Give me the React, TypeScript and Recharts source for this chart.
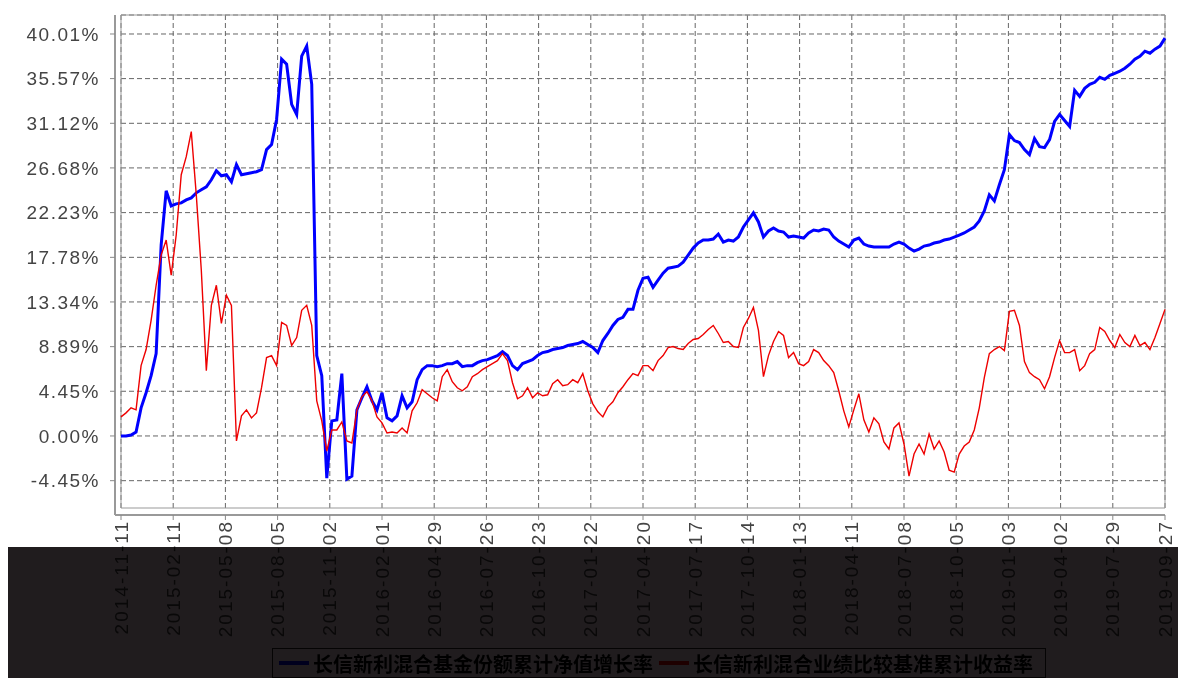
import { LineChart, Line, XAxis, YAxis, CartesianGrid, Legend, ReferenceArea } from 'recharts'

const dateLabels = [
  '2014-11-11', '2015-02-11', '2015-05-08', '2015-08-05', '2015-11-02', '2016-02-01', '2016-04-29',
  '2016-07-26', '2016-10-23', '2017-01-22', '2017-04-20', '2017-07-17', '2017-10-14', '2018-01-13',
  '2018-04-11', '2018-07-08', '2018-10-05', '2019-01-03', '2019-04-02', '2019-07-29', '2019-09-27',
]

const yTicks = [-4.45, 0, 4.45, 8.89, 13.34, 17.78, 22.23, 26.68, 31.12, 35.57, 40.01]

// 基金份额累计净值增长率 (%)
const fundReturn = [
  0.0, 0.0, 0.1, 0.4, 2.8, 4.3, 6.0, 8.2, 19.0, 24.4,
  22.9, 23.1, 23.2, 23.5, 23.7, 24.2, 24.5, 24.8, 25.5, 26.4,
  25.9, 26.0, 25.3, 27.0, 26.0, 26.1, 26.2, 26.3, 26.5, 28.5,
  29.0, 31.5, 37.5, 37.0, 33.0, 32.0, 37.8, 38.8, 35.0, 8.0,
  6.0, -4.2, 1.5, 1.6, 6.2, -4.3, -4.0, 2.6, 3.8, 4.9,
  3.5, 2.6, 4.3, 1.8, 1.5, 2.0, 4.0, 2.8, 3.4, 5.6,
  6.6, 7.0, 7.0, 6.9, 7.0, 7.2, 7.2, 7.4, 6.9, 7.0,
  7.0, 7.3, 7.5, 7.6, 7.8, 8.0, 8.4, 8.0, 7.0, 6.6,
  7.2, 7.4, 7.6, 8.0, 8.3, 8.4, 8.6, 8.7, 8.8, 9.0,
  9.1, 9.2, 9.4, 9.1, 8.8, 8.3, 9.5, 10.2, 11.0, 11.6,
  11.8, 12.6, 12.6, 14.5, 15.7, 15.8, 14.8, 15.5, 16.2, 16.7,
  16.8, 16.9, 17.3, 18.0, 18.7, 19.2, 19.5, 19.5, 19.6, 20.1,
  19.3, 19.5, 19.4, 19.8, 20.8, 21.5, 22.2, 21.3, 19.8, 20.4,
  20.7, 20.4, 20.3, 19.8, 19.9, 19.8, 19.7, 20.2, 20.5, 20.4,
  20.6, 20.5, 19.8, 19.4, 19.1, 18.8, 19.5, 19.7, 19.1, 18.9,
  18.8, 18.8, 18.8, 18.8, 19.1, 19.3, 19.1, 18.7, 18.4, 18.6,
  18.9, 19.0, 19.2, 19.3, 19.5, 19.6, 19.8, 20.0, 20.2, 20.5,
  20.8, 21.4, 22.4, 24.0, 23.4, 25.0, 26.5, 30.0, 29.4, 29.2,
  28.5, 28.0, 29.6, 28.8, 28.7, 29.5, 31.3, 32.0, 31.4, 30.8,
  34.4, 33.8, 34.6, 35.0, 35.2, 35.7, 35.5, 35.9, 36.1, 36.3,
  36.6, 37.0, 37.5, 37.8, 38.3, 38.1, 38.5, 38.8, 39.6,
]

// 业绩比较基准累计收益率 (%)
const benchReturn = [
  1.9, 2.3, 2.8, 2.6, 7.0, 8.6, 11.5, 15.0, 18.0, 19.5,
  16.0, 20.0, 26.0, 27.8, 30.3, 24.0, 16.5, 6.5, 13.0, 15.0,
  11.2, 14.0, 13.0, -0.5, 2.0, 2.6, 1.8, 2.3, 4.8, 7.8,
  8.0, 7.0, 11.3, 11.0, 9.0, 9.8, 12.5, 13.0, 11.0, 3.5,
  1.5, -1.5, 0.6, 0.6, 1.4, -0.5, -0.7, 2.6, 3.9, 4.4,
  3.5, 1.9, 1.3, 0.3, 0.4, 0.3, 0.8, 0.3, 2.5, 3.3,
  4.6, 4.2, 3.8, 3.5, 5.9, 6.6, 5.4, 4.8, 4.5, 4.9,
  5.9, 6.2, 6.6, 6.9, 7.2, 7.5, 8.2, 7.5, 5.3, 3.7,
  4.0, 4.8, 3.8, 4.3, 4.0, 4.1, 5.2, 5.6, 5.0, 5.1,
  5.6, 5.3, 6.2, 4.5, 3.2, 2.4, 1.9, 2.9, 3.4, 4.3,
  4.9, 5.6, 6.2, 6.0, 7.0, 7.0, 6.5, 7.5, 8.0, 8.8,
  8.9, 8.7, 8.6, 9.2, 9.6, 9.7, 10.1, 10.6, 11.0, 10.2,
  9.3, 9.4, 8.9, 8.8, 10.8, 11.7, 12.8, 10.5, 5.9, 8.0,
  9.4, 10.4, 10.0, 7.8, 8.3, 7.2, 7.0, 7.4, 8.6, 8.3,
  7.5, 7.0, 6.3, 4.5, 2.5, 0.9, 2.6, 4.2, 1.6, 0.4,
  1.8, 1.2, -0.6, -1.3, 0.8, 1.3, -0.8, -4.0, -1.8, -0.8,
  -1.8, 0.2, -1.3, -0.5, -1.6, -3.4, -3.6, -1.8, -1.0, -0.6,
  0.6, 2.8, 5.8, 8.2, 8.6, 8.9, 8.5, 12.4, 12.5, 11.0,
  7.4, 6.3, 5.9, 5.6, 4.7, 5.9, 7.8, 9.5, 8.3, 8.3,
  8.6, 6.5, 7.0, 8.2, 8.6, 10.8, 10.4, 9.5, 8.8, 10.1,
  9.3, 8.9, 10.0, 9.0, 9.3, 8.6, 9.8, 11.2, 12.6,
]

const fundName = '长信新利混合基金份额累计净值增长率'
const benchName = '长信新利混合业绩比较基准累计收益率'
const legendOrder = ['fund', 'bench']

const Y_MIN = -7.17
const Y_MAX = 41.9
const LAST_TICK = dateLabels.length - 1

const data = fundReturn.map((v, i) => ({
  t: (i * LAST_TICK) / (fundReturn.length - 1),
  fund: v,
  bench: benchReturn[i],
}))

function DateTick({ x, y, payload }: any) {
  return (
    <text
      x={x}
      y={y}
      transform={`rotate(-90 ${x} ${y})`}
      textAnchor="end"
      dominantBaseline="central"
      fontSize={19}
      letterSpacing={2}
      fill="#444"
    >
      {dateLabels[payload.value]}
    </text>
  )
}

function LegendBox({ payload }: any) {
  const items = [...(payload || [])].sort(
    (a: any, b: any) => legendOrder.indexOf(a.dataKey) - legendOrder.indexOf(b.dataKey)
  )
  return (
    <div
      style={{
        display: 'inline-flex',
        alignItems: 'center',
        height: 30,
        boxSizing: 'border-box',
        border: '1px solid #222',
        background: '#fff',
        padding: '0 6px',
        fontFamily: '"Noto Sans CJK SC", sans-serif',
        fontWeight: 700,
        fontSize: 20,
        color: '#000',
        whiteSpace: 'nowrap',
      }}
    >
      {items.map((p: any) => (
        <span key={p.value} style={{ display: 'inline-flex', alignItems: 'center', marginRight: 6 }}>
          <span style={{ display: 'inline-block', width: 30, height: 4, background: p.color, marginRight: 4 }} />
          {p.value}
        </span>
      ))}
    </div>
  )
}

export default function App() {
  return (
    <div style={{ position: 'relative', width: 1178, height: 678, background: '#fff', fontFamily: '"Liberation Sans", Arial, sans-serif' }}>
      <style>{'body{margin:0}'}</style>
      <LineChart width={1178} height={678} data={data} margin={{ top: 15, right: 13, left: 0, bottom: 0 }}>
        <CartesianGrid x={121} y={15} width={1044} height={493} stroke="#666" strokeDasharray="5 3" />
        <ReferenceArea x1={0} x2={LAST_TICK} y1={Y_MIN} y2={Y_MAX} fill="none" stroke="#999" strokeWidth={1} />
        <XAxis
          type="number"
          dataKey="t"
          domain={[0, LAST_TICK]}
          ticks={dateLabels.map((_, i) => i)}
          interval={0}
          height={133}
          padding={{ left: 6, right: 0 }}
          axisLine={{ stroke: '#999', strokeWidth: 2 }}
          tickLine={{ stroke: '#888' }}
          tickSize={5}
          tickMargin={0}
          tick={<DateTick />}
        />
        <YAxis
          type="number"
          domain={[Y_MIN, Y_MAX]}
          ticks={yTicks}
          interval={0}
          width={115}
          padding={{ top: 0, bottom: 7 }}
          axisLine={{ stroke: '#999', strokeWidth: 2 }}
          tickLine={{ stroke: '#888' }}
          tickSize={5}
          tickMargin={10}
          tick={{ fontSize: 19, fill: '#444', letterSpacing: 1.5 }}
          tickFormatter={(v: number) => v.toFixed(2) + '%'}
        />
        <Legend verticalAlign="bottom" content={<LegendBox />} wrapperStyle={{ left: 272, bottom: 0, width: 'auto' }} />
        <Line
          type="linear"
          dataKey="fund"
          name={fundName}
          stroke="#0000ff"
          strokeWidth={3}
          dot={false}
          isAnimationActive={false}
        />
        <Line
          type="linear"
          dataKey="bench"
          name={benchName}
          stroke="#ee0000"
          strokeWidth={1.4}
          dot={false}
          isAnimationActive={false}
        />
      </LineChart>
      <div
        style={{
          position: 'absolute',
          left: 8,
          top: 547,
          width: 1170,
          height: 131,
          background: '#201c1e',
          mixBlendMode: 'multiply',
          pointerEvents: 'none',
        }}
      />
    </div>
  )
}
